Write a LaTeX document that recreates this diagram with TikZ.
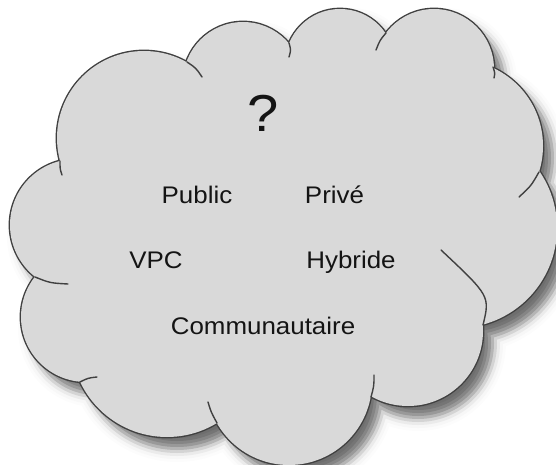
\documentclass[tikz,border=0pt]{standalone}
\usepackage{fontspec}
\setmainfont{Liberation Sans}[FakeStretch=1.08]

% The cloud is the union of these circles; #1 grows every radius.
\newcommand\cloudunion[1]{%
  (144,138) circle[radius={87+(#1)}]
  (243,82)  circle[radius={60+(#1)}]
  (340,64)  circle[radius={55+(#1)}]
  (434,69)  circle[radius={60+(#1)}]
  (457,146) circle[radius={86+(#1)}]
  (457,228) circle[radius={100+(#1)}]
  (408,331) circle[radius={75+(#1)}]
  (289,382) circle[radius={83+(#1)}]
  (167,341) circle[radius={96+(#1)}]
  (86,317)  circle[radius={65+(#1)}]
  (76,225)  circle[radius={66+(#1)}]}
% Core of the cloud, joining the circle centres.
\newcommand\cloudcore{%
  (144,138) -- (243,82) -- (340,64) -- (434,69) -- (457,146) -- (457,228)
  -- (408,331) -- (289,382) -- (167,341) -- (86,317) -- (76,225) -- cycle}

\definecolor{cloudfill}{HTML}{D9D9D9}
\definecolor{cloudline}{HTML}{404040}

\begin{document}
\begin{tikzpicture}[x=1pt,y=-1pt,
  word/.style={font=\fontsize{24}{28}\selectfont, text=black!92, anchor=base, inner sep=0pt},
  curl/.style={draw=cloudline, line width=1.4pt, line cap=round}]
\useasboundingbox (0,0) rectangle (556,465);
\clip (0,0) rectangle (556,465);

% soft drop shadow, painted from the faint rim inwards
\begin{scope}[shift={(10,12)}]
  \foreach \e/\c in {13/1, 10/3, 7/8, 4/17, 1/29, -2/40, -5/48, -8/54, -11/57} {
    \fill[black!\c] \cloudunion{\e};
  }
\end{scope}

% outline: a double-width stroke whose inner half is hidden by the fill
\draw[cloudline, line width=2.8pt] \cloudunion{0};
\fill[cloudfill] \cloudunion{0};
\fill[cloudfill] \cloudcore;

% inner curls where the puffs meet
\draw[curl] (60,161) .. controls (60,169) .. (62,175);
\draw[curl] (187,62) .. controls (196,68) .. (202,77);
\draw[curl] (289,43) .. controls (291,50) .. (289,57);
\draw[curl] (386,33) .. controls (380,40) .. (376,50);
\draw[curl] (493,67) .. controls (495,73) .. (494,78);
\draw[curl] (539,172) .. controls (531,186) .. (519,197);
\draw[curl] (483,325) .. controls (490,296) .. (441,250);
\draw[curl] (371,397) .. controls (374,386) .. (374,375);
\draw[curl] (217,423) .. controls (211,412) .. (208,402);
\draw[curl] (80,382) .. controls (88,378) .. (97,377);
\draw[curl] (35,277) .. controls (50,283) .. (68,284);

% labels
\node[word, font=\fontsize{52}{60}\selectfont] (question) at (263,132) {?};
\node[word] (public) at (197,203) {Public};
\node[word] (prive) at (334.5,203) {Privé};
\node[word] (vpc) at (156,268) {VPC};
\node[word] (hybride) at (351,268) {Hybride};
\node[word] (communautaire) at (263,334) {Communautaire};
\end{tikzpicture}
\end{document}
